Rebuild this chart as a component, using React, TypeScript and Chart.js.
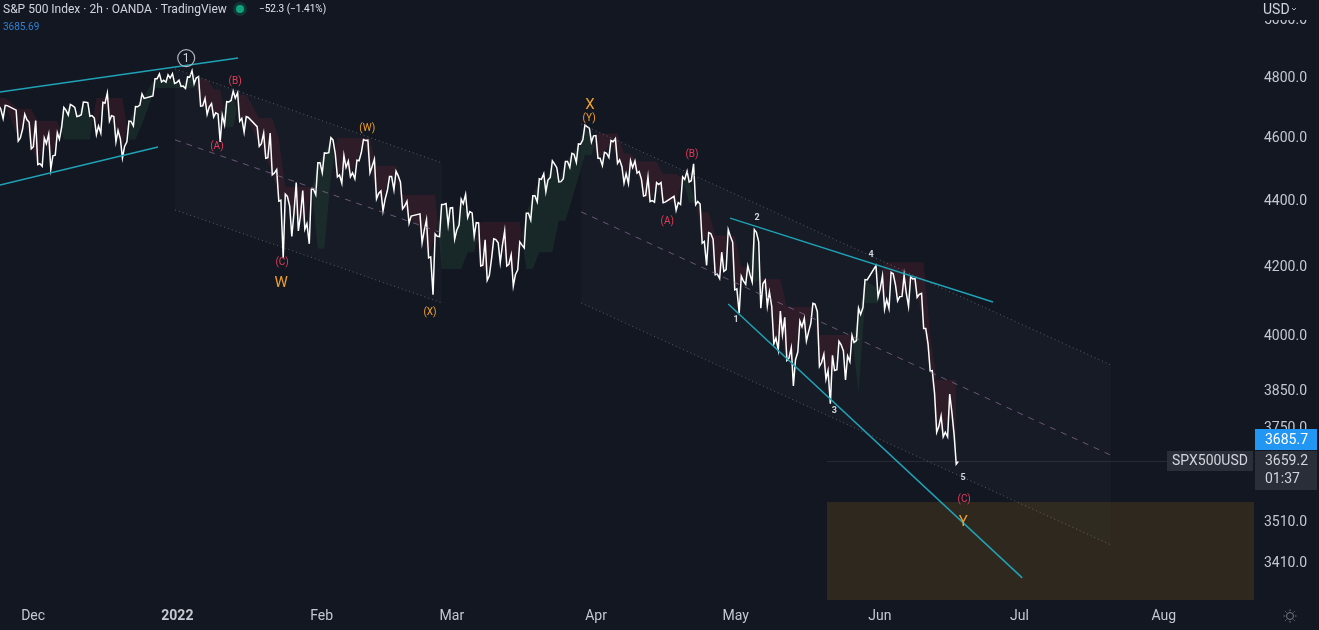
import React, { useEffect, useRef } from 'react';
import { Chart, registerables } from 'chart.js';

Chart.register(...registerables);

const FONT = 'Roboto, "Noto Sans", sans-serif';

// ---------- price data (daily sessions) ----------
const sessionDates: string[] = [
  '2021-11-22','2021-11-23','2021-11-24','2021-11-26','2021-11-29','2021-11-30',
  '2021-12-01','2021-12-02','2021-12-03','2021-12-06','2021-12-07','2021-12-08','2021-12-09','2021-12-10','2021-12-13','2021-12-14',
  '2021-12-15','2021-12-16','2021-12-17','2021-12-20','2021-12-21','2021-12-22','2021-12-23','2021-12-27','2021-12-28','2021-12-29','2021-12-30','2021-12-31',
  '2022-01-03','2022-01-04','2022-01-05','2022-01-06','2022-01-07','2022-01-10','2022-01-11','2022-01-12','2022-01-13','2022-01-14',
  '2022-01-18','2022-01-19','2022-01-20','2022-01-21','2022-01-24','2022-01-25','2022-01-26','2022-01-27','2022-01-28','2022-01-31',
  '2022-02-01','2022-02-02','2022-02-03','2022-02-04','2022-02-07','2022-02-08','2022-02-09','2022-02-10','2022-02-11','2022-02-14',
  '2022-02-15','2022-02-16','2022-02-17','2022-02-18','2022-02-22','2022-02-23','2022-02-24','2022-02-25','2022-02-28',
  '2022-03-01','2022-03-02','2022-03-03','2022-03-04','2022-03-07','2022-03-08','2022-03-09','2022-03-10','2022-03-11','2022-03-14',
  '2022-03-15','2022-03-16','2022-03-17','2022-03-18','2022-03-21','2022-03-22','2022-03-23','2022-03-24','2022-03-25','2022-03-28',
  '2022-03-29','2022-03-30','2022-03-31',
  '2022-04-01','2022-04-04','2022-04-05','2022-04-06','2022-04-07','2022-04-08','2022-04-11','2022-04-12','2022-04-13','2022-04-14',
  '2022-04-18','2022-04-19','2022-04-20','2022-04-21','2022-04-22','2022-04-25','2022-04-26','2022-04-27','2022-04-28','2022-04-29',
  '2022-05-02','2022-05-03','2022-05-04','2022-05-05','2022-05-06','2022-05-09','2022-05-10','2022-05-11','2022-05-12','2022-05-13',
  '2022-05-16','2022-05-17','2022-05-18','2022-05-19','2022-05-20','2022-05-23','2022-05-24','2022-05-25','2022-05-26','2022-05-27',
  '2022-05-31',
  '2022-06-01','2022-06-02','2022-06-03','2022-06-06','2022-06-07','2022-06-08','2022-06-09','2022-06-10','2022-06-13','2022-06-14',
  '2022-06-15','2022-06-16',
];

const sessionHighs: number[] = [
  4743, 4701, 4702, 4686, 4673, 4646,
  4652, 4595, 4608, 4612, 4695, 4705, 4695, 4713, 4711, 4660, 4712, 4743, 4665, 4592, 4650, 4698, 4740, 4791, 4807, 4804, 4808, 4786,
  4797, 4818, 4798, 4725, 4708, 4673, 4714, 4749, 4744, 4665, 4632, 4611, 4611, 4494, 4417, 4379, 4453, 4428, 4432, 4516,
  4547, 4596, 4543, 4539, 4521, 4524, 4590, 4588, 4527, 4427, 4472, 4489, 4454, 4395, 4356, 4338, 4295, 4385, 4388,
  4375, 4401, 4416, 4359, 4328, 4277, 4280, 4268, 4304, 4232, 4271, 4358, 4412, 4465, 4481, 4522, 4500, 4520, 4546, 4576, 4637, 4627, 4603,
  4549, 4587, 4593, 4503, 4522, 4521, 4463, 4471, 4453, 4453, 4410, 4471, 4489, 4512, 4386, 4299, 4278, 4240, 4308, 4270,
  4169, 4200, 4308, 4271, 4157, 4081, 4068, 4050, 3964, 4039, 4047, 4090, 4066, 3946, 3943, 3982, 3955, 3999, 4076, 4159, 4200,
  4170, 4180, 4143, 4172, 4168, 4162, 4119, 3974, 3838, 3778, 3837, 3728,
];

const sessionLows: number[] = [
  4682, 4652, 4659, 4585, 4625, 4560,
  4510, 4504, 4495, 4540, 4632, 4670, 4665, 4671, 4666, 4606, 4611, 4650, 4583, 4531, 4583, 4634, 4703, 4733, 4780, 4779, 4775, 4765,
  4758, 4774, 4699, 4672, 4663, 4582, 4638, 4718, 4650, 4614, 4568, 4530, 4477, 4395, 4222, 4287, 4304, 4309, 4265, 4415,
  4484, 4548, 4471, 4451, 4471, 4465, 4549, 4484, 4402, 4365, 4429, 4430, 4371, 4327, 4268, 4223, 4115, 4287, 4322,
  4279, 4322, 4345, 4288, 4199, 4157, 4223, 4209, 4199, 4140, 4188, 4253, 4337, 4393, 4424, 4469, 4455, 4465, 4501, 4517, 4589, 4582, 4530,
  4507, 4532, 4514, 4451, 4450, 4483, 4411, 4394, 4392, 4390, 4367, 4385, 4455, 4384, 4267, 4201, 4173, 4162, 4188, 4129,
  4062, 4145, 4152, 4076, 4082, 3975, 3958, 3929, 3859, 3952, 3983, 4033, 3912, 3877, 3811, 3903, 3875, 3925, 3984, 4078, 4109,
  4073, 4075, 4097, 4110, 4081, 4107, 4018, 3900, 3735, 3723, 3723, 3652,
];

const sessionCloses: number[] = [
  4682, 4690, 4701, 4595, 4655, 4567,
  4513, 4577, 4538, 4591, 4686, 4701, 4667, 4712, 4668, 4634, 4709, 4668, 4620, 4568, 4649, 4697, 4725, 4791, 4786, 4793, 4778, 4766,
  4796, 4793, 4700, 4696, 4677, 4670, 4713, 4726, 4659, 4662, 4577, 4532, 4483, 4398, 4410, 4357, 4350, 4326, 4432, 4516,
  4546, 4589, 4477, 4501, 4484, 4522, 4587, 4504, 4419, 4401, 4472, 4475, 4380, 4349, 4305, 4226, 4288, 4385, 4374,
  4306, 4387, 4363, 4329, 4201, 4171, 4278, 4260, 4204, 4173, 4262, 4358, 4412, 4463, 4461, 4512, 4456, 4520, 4543, 4575, 4632, 4602, 4530,
  4546, 4583, 4525, 4481, 4500, 4488, 4413, 4397, 4447, 4392, 4391, 4463, 4459, 4394, 4272, 4296, 4175, 4183, 4288, 4132,
  4155, 4175, 4300, 4147, 4123, 3991, 4001, 3935, 3930, 4023, 4008, 4088, 3923, 3901, 3901, 3973, 3941, 3979, 4058, 4158, 4132,
  4101, 4176, 4109, 4121, 4161, 4116, 4018, 3901, 3750, 3735, 3790, 3659.2,
];

// trailing trend band (cloud) step levels
const bandStartDates: string[] = [
  '2021-11-22','2021-11-26','2021-12-01','2021-12-07','2021-12-14','2021-12-21','2021-12-23','2021-12-27',
  '2022-01-05','2022-01-07','2022-01-11','2022-01-13','2022-01-18','2022-01-21','2022-01-24','2022-01-31',
  '2022-02-02','2022-02-03','2022-02-11','2022-02-17','2022-02-25','2022-03-03','2022-03-07','2022-03-16',
  '2022-03-18','2022-03-23','2022-03-25','2022-03-28','2022-03-29','2022-03-31','2022-04-06','2022-04-08',
  '2022-04-14','2022-04-19','2022-04-20','2022-04-22','2022-04-26','2022-05-02','2022-05-04','2022-05-05',
  '2022-05-11','2022-05-18','2022-05-26','2022-05-27','2022-06-01','2022-06-10','2022-06-13',
];
const bandLevels: number[] = [
  4726, 4690, 4650, 4590, 4726, 4590, 4640, 4760,
  4790, 4755, 4630, 4737, 4660, 4590, 4440, 4250,
  4470, 4595, 4505, 4415, 4190, 4240, 4331, 4190,
  4240, 4335, 4400, 4470, 4540, 4610, 4545, 4520,
  4480, 4465, 4390, 4360, 4290, 4195, 4150, 4160,
  4080, 4000, 3840, 4090, 4210, 4000, 3876,
];

// axes
const monthTickDays: number[] = [0, 31, 62, 90, 121, 151, 182, 212, 243];
const monthTickLabels: string[] = ['Dec', '2022', 'Feb', 'Mar', 'Apr', 'May', 'Jun', 'Jul', 'Aug'];
const priceTicks: number[] = [5000, 4800, 4600, 4400, 4200, 4000, 3850, 3750, 3510, 3410];
const xRange: number[] = [-7.12, 262.4];
const yRange: number[] = [3318.9, 5064];

// drawings (x in chart day units since 2021-12-01, y in price)
const trendFromX: number[] = [-7.12, -7.12, 149.8, 149.4];
const trendFromP: number[] = [4746, 4445, 4343, 4088];
const trendToX: number[] = [44.05, 26.85, 206.3, 212.6];
const trendToP: number[] = [4861, 4566, 4094, 3371];

const channelLeftX: number[] = [30.5, 117.8];
const channelRightX: number[] = [87.9, 231.7];
const channelUpper: number[][] = [[4824, 4515], [4640, 3916]];
const channelMiddle: number[][] = [[4589, 4298], [4362, 3675]];
const channelLower: number[][] = [[4368, 4091], [4091, 3450]];

const zoneX: number[] = [170.6, 262.4];
const zoneP: number[] = [3556, 3300];

const waveText: string[] = ['1', '(B)', '(A)', '(C)', 'W', '(W)', '(X)', 'X', '(Y)', '(B)', '(A)', '2', '1', '3', '4', '5', '(C)', 'Y'];
const waveX: number[] = [32.9, 43.4, 39.5, 53.5, 53.3, 71.8, 85.3, 119.7, 119.5, 141.6, 136.3, 155.6, 151.1, 172.2, 180.1, 199.9, 200.1, 199.9];
const waveP: number[] = [4861, 4780, 4569, 4208, 4149, 4627, 4065, 4703, 4660, 4543, 4334, 4343, 4042, 3791, 4232, 3617, 3563, 3505];
const waveKind: string[] = ['circle', 'red', 'red', 'red', 'big', 'orange', 'orange', 'big', 'orange', 'red', 'red', 'num', 'num', 'num', 'num', 'num', 'red', 'big'];

const lastPrice = 3659.2;
const livePrice = 3685.7;
const symbolName = 'SPX500USD';
const countdown = '01:37';

// ---------- helpers ----------
const BASE = Date.UTC(2021, 11, 1);
function sessionX(d: string): number {
  const t = Date.parse(d + 'T00:00:00Z');
  const day = Math.round((t - BASE) / 86400000);
  const wd = (new Date(t).getUTCDay() + 6) % 7;
  return day - wd + 0.2 + wd * 1.4;
}

function buildPricePath() {
  const pts: { x: number; y: number }[] = [];
  sessionDates.forEach((d, i) => {
    const x = sessionX(d);
    const up = i === 0 ? true : sessionCloses[i] >= sessionCloses[i - 1];
    const a = up ? sessionLows[i] : sessionHighs[i];
    const b = up ? sessionHighs[i] : sessionLows[i];
    pts.push({ x: x - 0.45, y: a }, { x, y: b }, { x: x + 0.45, y: sessionCloses[i] });
  });
  return pts;
}

function bandFor(d: string): number {
  let lvl = bandLevels[0];
  for (let k = 0; k < bandStartDates.length; k++) if (bandStartDates[k] <= d) lvl = bandLevels[k];
  return lvl;
}

const drawingsPlugin = {
  id: 'drawings',
  beforeDatasetsDraw(chart: any) {
    const { ctx, chartArea: a, scales } = chart;
    const xs = scales.x, ys = scales.y;
    ctx.save();
    ctx.beginPath();
    ctx.rect(a.left, a.top, a.right - a.left, a.bottom - a.top);
    ctx.clip();
    // target zone
    const zx1 = xs.getPixelForValue(zoneX[0]);
    const zx2 = xs.getPixelForValue(zoneX[1]);
    const zy1 = ys.getPixelForValue(zoneP[0]);
    const zy2 = ys.getPixelForValue(zoneP[1]);
    ctx.fillStyle = 'rgba(130,90,20,0.25)';
    ctx.fillRect(zx1, zy1, zx2 - zx1, zy2 - zy1);
    // channel backgrounds
    for (let c = 0; c < channelLeftX.length; c++) {
      const l = xs.getPixelForValue(channelLeftX[c]);
      const r = xs.getPixelForValue(channelRightX[c]);
      ctx.beginPath();
      ctx.moveTo(l, ys.getPixelForValue(channelUpper[c][0]));
      ctx.lineTo(r, ys.getPixelForValue(channelUpper[c][1]));
      ctx.lineTo(r, ys.getPixelForValue(channelLower[c][1]));
      ctx.lineTo(l, ys.getPixelForValue(channelLower[c][0]));
      ctx.closePath();
      ctx.fillStyle = 'rgba(140,145,165,0.03)';
      ctx.fill();
    }
    ctx.restore();
  },
  afterDatasetsDraw(chart: any) {
    const { ctx, chartArea: a, scales } = chart;
    const xs = scales.x, ys = scales.y;
    ctx.save();
    ctx.beginPath();
    ctx.rect(a.left, a.top, a.right - a.left, a.bottom - a.top);
    ctx.clip();

    // last price line
    const lp = ys.getPixelForValue(lastPrice);
    ctx.strokeStyle = 'rgba(140,145,160,0.16)';
    ctx.lineWidth = 1;
    ctx.setLineDash([]);
    ctx.beginPath();
    ctx.moveTo(xs.getPixelForValue(zoneX[0]), Math.round(lp) + 0.5);
    ctx.lineTo(a.right, Math.round(lp) + 0.5);
    ctx.stroke();

    // channels
    for (let c = 0; c < channelLeftX.length; c++) {
      const l = xs.getPixelForValue(channelLeftX[c]);
      const r = xs.getPixelForValue(channelRightX[c]);
      const seg = (p: number[], color: string, dash: number[]) => {
        ctx.strokeStyle = color;
        ctx.setLineDash(dash);
        ctx.beginPath();
        ctx.moveTo(l, ys.getPixelForValue(p[0]));
        ctx.lineTo(r, ys.getPixelForValue(p[1]));
        ctx.stroke();
      };
      ctx.lineWidth = 1;
      seg(channelUpper[c], 'rgba(120,124,138,0.7)', [1, 3]);
      seg(channelLower[c], 'rgba(120,124,138,0.7)', [1, 3]);
      seg(channelMiddle[c], 'rgba(150,118,160,0.65)', [6, 6]);
    }
    ctx.setLineDash([]);

    // trend lines
    ctx.strokeStyle = '#1fa3b6';
    ctx.lineWidth = 1.5;
    for (let i = 0; i < trendFromX.length; i++) {
      ctx.beginPath();
      ctx.moveTo(xs.getPixelForValue(trendFromX[i]), ys.getPixelForValue(trendFromP[i]));
      ctx.lineTo(xs.getPixelForValue(trendToX[i]), ys.getPixelForValue(trendToP[i]));
      ctx.stroke();
    }

    // wave labels
    ctx.textAlign = 'center';
    ctx.textBaseline = 'middle';
    for (let i = 0; i < waveText.length; i++) {
      const px = xs.getPixelForValue(waveX[i]);
      const py = ys.getPixelForValue(waveP[i]);
      const k = waveKind[i];
      if (k === 'circle') {
        ctx.strokeStyle = '#b2b5be';
        ctx.lineWidth = 1.2;
        ctx.beginPath();
        ctx.arc(px, py, 8.5, 0, Math.PI * 2);
        ctx.stroke();
        ctx.fillStyle = '#d1d4dc';
        ctx.font = `12px ${FONT}`;
        ctx.fillText(waveText[i], px, py + 0.5);
      } else {
        if (k === 'red') { ctx.fillStyle = '#e23d58'; ctx.font = `10px ${FONT}`; }
        else if (k === 'orange') { ctx.fillStyle = '#f0a02a'; ctx.font = `10px ${FONT}`; }
        else if (k === 'big') { ctx.fillStyle = '#f0a02a'; ctx.font = `15px ${FONT}`; }
        else { ctx.fillStyle = '#d1d4dc'; ctx.font = `bold 9px ${FONT}`; }
        ctx.fillText(waveText[i], px, py);
      }
    }
    ctx.restore();
  },
  afterDraw(chart: any) {
    const { ctx, chartArea: a, scales, width } = chart;
    const ys = scales.y;
    ctx.save();
    // currency header on the price axis
    ctx.fillStyle = '#131722';
    ctx.fillRect(a.right, 0, width - a.right, 20);
    ctx.fillStyle = '#d1d4dc';
    ctx.font = `14px ${FONT}`;
    ctx.textAlign = 'left';
    ctx.textBaseline = 'middle';
    ctx.fillText('USD', a.right + 9, 10);
    ctx.strokeStyle = '#b2b5be';
    ctx.lineWidth = 1;
    ctx.beginPath();
    ctx.moveTo(a.right + 38, 8);
    ctx.lineTo(a.right + 40, 10);
    ctx.lineTo(a.right + 42, 8);
    ctx.stroke();

    // price labels
    const gy = Math.round(ys.getPixelForValue(lastPrice));
    const boxL = a.right + 1;
    const boxW = width - boxL - 2;
    ctx.fillStyle = '#2a2e39';
    ctx.fillRect(boxL, gy - 10, boxW, 39);
    ctx.fillRect(a.right - 87, gy - 10, 86, 20);
    ctx.fillStyle = '#2196f3';
    ctx.fillRect(boxL, gy - 32, boxW, 21);
    ctx.font = `14px ${FONT}`;
    ctx.fillStyle = '#ffffff';
    ctx.fillText(livePrice.toFixed(1), a.right + 11, gy - 21);
    ctx.fillStyle = '#d1d4dc';
    ctx.fillText(lastPrice.toFixed(1), a.right + 11, gy);
    ctx.fillText(countdown, a.right + 11, gy + 18);
    ctx.textAlign = 'center';
    ctx.fillText(symbolName, a.right - 44, gy);

    // settings icon
    const gx = width - 29, gyy = a.bottom + 16;
    ctx.strokeStyle = '#787b86';
    ctx.lineWidth = 1;
    ctx.beginPath();
    ctx.arc(gx, gyy, 3.5, 0, Math.PI * 2);
    ctx.stroke();
    for (let i = 0; i < 8; i++) {
      const ang = (i * Math.PI) / 4;
      ctx.beginPath();
      ctx.moveTo(gx + Math.cos(ang) * 5, gyy + Math.sin(ang) * 5);
      ctx.lineTo(gx + Math.cos(ang) * 6.5, gyy + Math.sin(ang) * 6.5);
      ctx.stroke();
    }
    ctx.restore();
  },
};

export default function App() {
  const canvasRef = useRef<HTMLCanvasElement>(null);

  useEffect(() => {
    const pricePath = buildPricePath();
    const closeLine = sessionDates.map((d, i) => ({ x: sessionX(d), y: sessionCloses[i] }));
    const bandLine = sessionDates.map((d) => ({ x: sessionX(d), y: bandFor(d) }));

    const chart = new Chart(canvasRef.current as HTMLCanvasElement, {
      type: 'line',
      data: {
        datasets: [
          {
            label: 'SPX500USD',
            data: pricePath,
            borderColor: '#ffffff',
            borderWidth: 1.5,
            pointRadius: 0,
            tension: 0,
            fill: false,
          },
          {
            label: 'close',
            data: closeLine,
            borderColor: 'rgba(0,0,0,0)',
            borderWidth: 0,
            pointRadius: 0,
            fill: false,
          },
          {
            label: 'band',
            data: bandLine,
            borderColor: 'rgba(0,0,0,0)',
            borderWidth: 0,
            pointRadius: 0,
            fill: { target: 1, above: 'rgba(242,54,69,0.11)', below: 'rgba(76,175,80,0.11)' },
          },
        ],
      },
      options: {
        animation: false,
        responsive: true,
        maintainAspectRatio: false,
        events: [],
        layout: { padding: 0 },
        plugins: { legend: { display: false }, tooltip: { enabled: false } },
        scales: {
          x: {
            type: 'linear',
            position: 'bottom',
            min: xRange[0],
            max: xRange[1],
            grid: { display: false, drawTicks: false },
            border: { display: false },
            afterBuildTicks: (s: any) => {
              s.ticks = monthTickDays.map((v) => ({ value: v }));
            },
            afterFit: (s: any) => {
              s.height = 30;
              s.paddingLeft = 0;
              s.paddingRight = 0;
            },
            ticks: {
              autoSkip: false,
              maxRotation: 0,
              padding: 8,
              color: '#c5c8d0',
              font: (c: any) => ({
                family: FONT,
                size: 14,
                weight: c.tick && c.tick.value === 31 ? 'bold' : 'normal',
              }),
              callback: (v: any) => {
                const idx = monthTickDays.indexOf(Number(v));
                return idx >= 0 ? monthTickLabels[idx] : '';
              },
            },
          },
          y: {
            type: 'logarithmic',
            position: 'right',
            min: yRange[0],
            max: yRange[1],
            grid: { display: false, drawTicks: false },
            border: { display: false },
            afterBuildTicks: (s: any) => {
              s.ticks = priceTicks.map((v) => ({ value: v }));
            },
            afterFit: (s: any) => {
              s.width = 65;
              s.paddingTop = 0;
              s.paddingBottom = 0;
            },
            ticks: {
              padding: 10,
              labelOffset: 2,
              color: '#c5c8d0',
              font: { family: FONT, size: 14 },
              callback: (v: any) => Number(v).toFixed(1),
            },
          },
        },
      },
      plugins: [drawingsPlugin],
    } as any);
    return () => chart.destroy();
  }, []);

  return (
    <div
      style={{
        position: 'fixed',
        left: 0,
        top: 0,
        width: 1319,
        height: 630,
        background: '#131722',
        overflow: 'hidden',
        fontFamily: FONT,
      }}
    >
      <div style={{ position: 'absolute', left: 0, top: 0, width: 1319, height: 630 }}>
        <canvas ref={canvasRef} />
      </div>
      <div
        style={{
          position: 'absolute',
          left: 3,
          top: 2,
          fontSize: 12,
          lineHeight: '14px',
          color: '#d1d4dc',
          whiteSpace: 'pre',
        }}
      >
        S&amp;P 500 Index · 2h · OANDA · TradingView
      </div>
      <div
        style={{
          position: 'absolute',
          left: 236,
          top: 5,
          width: 8,
          height: 8,
          borderRadius: '50%',
          background: '#0fa37a',
          boxShadow: '0 0 0 3px rgba(15,163,122,0.22)',
        }}
      />
      <div
        style={{
          position: 'absolute',
          left: 259,
          top: 3,
          fontSize: 10,
          lineHeight: '12px',
          color: '#e0e3eb',
          whiteSpace: 'pre',
        }}
      >
        −52.3 (−1.41%)
      </div>
      <div
        style={{
          position: 'absolute',
          left: 3,
          top: 21,
          fontSize: 10,
          lineHeight: '12px',
          color: '#2f80d0',
        }}
      >
        3685.69
      </div>
    </div>
  );
}
